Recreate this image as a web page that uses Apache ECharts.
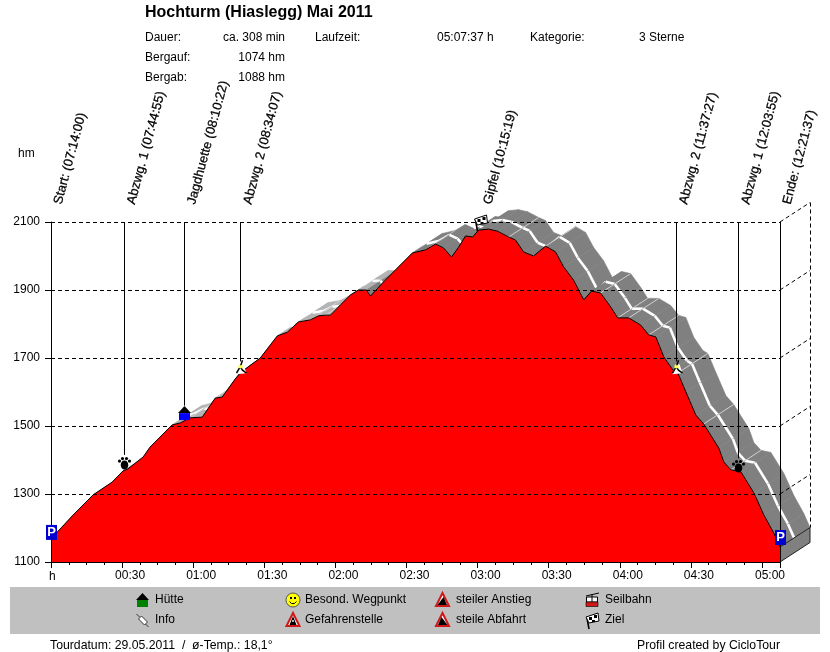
<!DOCTYPE html>
<html><head><meta charset="utf-8">
<style>html,body{margin:0;padding:0;background:#fff}#c{width:830px;height:652px}</style>
<script src="https://cdn.jsdelivr.net/npm/echarts@6/dist/echarts.min.js"></script>
</head><body><div id="c"></div>
<script>
// ---- data ----
const times = [0,9.3,17.7,25.8,30.4,32.5,38.9,41.8,51.1,54.5,58.7,63.8,69.3,72.2,77.7,79.8,83.2,88.3,92.5,95.5,99.7,104.4,109.4,112.8,115.8,117.9,122.1,126.3,129.7,133.1,134.8,139.8,146.2,152.5,158,162.2,165.6,169,172,174.9,177.9,180.4,184.6,188.4,193.1,196,199.4,203.6,208.7,212.9,216.3,220.5,224.8,228.1,231.9,236.2,239.1,243.8,248.8,252.2,255.2,258.6,262.4,264.5,267.9,272.1,275.4,281.8,283.9,286.9,291.1,296.6,300.8,305,307.6];
const elevations = [1168,1238,1297,1335,1368,1374,1409,1438,1503,1509,1524,1526,1582,1585,1638,1656,1674,1700,1738,1765,1776,1806,1812,1824,1826,1826,1856,1885,1900,1900,1882,1920,1965,2009,2018,2035,2024,1997,2026,2059,2056,2076,2079,2073,2056,2047,2012,2000,2029,2012,1968,1929,1871,1897,1891,1850,1818,1818,1797,1768,1762,1703,1665,1656,1600,1532,1506,1435,1394,1371,1365,1303,1238,1185,1144];
const ribbonEdgeTimes = [58.7,63.8,69.3,109.4,115.8,122.1,139.8,146.2,158,172,177.9,193.1,203.6,208.7,231.9,239.1,243.8,252.2,264.5,275.4,286.9];
const lightRibbonUntil = 130;
const waypointLabels = ['Start: (07:14:00)','Abzwg. 1 (07:44:55)','Jagdhuette (08:10:22)','Abzwg. 2 (08:34:07)','Gipfel (10:15:19)','Abzwg. 2 (11:37:27)','Abzwg. 1 (12:03:55)','Ende: (12:21:37)'];
const waypointTimes = [0,30.9,56.4,80.1,181.3,263.9,290.2,307.6];
const waypointMarkerElev = [1187,1391,1538,1673,2100,1673,1382,1172];
const waypointPinEnd = [1100,1415,1560,1690,2100,1690,1405,1100];
const waypointIcons = ['park','paw','hut','hiker','flag','hiker','paw','park'];
const yTicks = [1100,1300,1500,1700,1900,2100];
const legendLabels = [['hut','Hütte'],['info','Info'],['smile','Besond. Wegpunkt'],['danger','Gefahrenstelle'],['up','steiler Anstieg'],['down','steile Abfahrt'],['cable','Seilbahn'],['flag','Ziel']];

const xMax = 307.6, yMin = 1100, yMax = 2100;
const depthX = 12.66, depthY = 57.35, centre = 0.47;
const FONT = '"Liberation Sans", Arial, sans-serif';

const R = (t,o)=>({type:'rect',shape:t,style:o});
const PL = (pts,c,w)=>({type:'polyline',shape:{points:pts},style:{fill:'none',stroke:c,lineWidth:w}});
function icon(kind,x,y){
  let ch=[];
  const blk='#000';
  if(kind==='park'){ ch=[R({x:-5.5,y:-7.5,width:11,height:15},{fill:'#0000D0'}),
    {type:'text',style:{text:'P',x:0,y:0,fill:'#fff',font:'bold 13px '+FONT,align:'center',verticalAlign:'middle'}}]; }
  if(kind==='paw'){ ch=[{type:'ellipse',shape:{cx:0,cy:2,rx:3.8,ry:4.5},style:{fill:blk}}];
    [[-5,-2],[-2,-4.5],[2,-4.5],[5,-2]].forEach(p=>ch.push({type:'circle',shape:{cx:p[0],cy:p[1],r:1.6},style:{fill:blk}})); }
  if(kind==='hut'){ ch=[{type:'polygon',shape:{points:[[-6.5,0],[0,-7],[6.5,0]]},style:{fill:blk}},R({x:-5.5,y:0,width:11,height:7},{fill:'#0000FF'})]; }
  if(kind==='hutLegend'){ ch=[{type:'polygon',shape:{points:[[-6.5,0],[0,-7],[6.5,0]]},style:{fill:blk}},R({x:-5.5,y:0,width:11,height:7},{fill:'#008000'})]; }
  if(kind==='hiker'){ ch=[
    {type:'polygon',shape:{points:[[-4,7],[-1,-3],[3,-3],[6,6]]},style:{fill:'#fff'}},
    PL([[2,-7],[0,-1],[-4,6]],blk,1.5),PL([[0,0],[2,3],[6,6]],blk,1.5),
    R({x:-2,y:-2,width:4,height:3},{fill:'#FFFF40'})]; }
  if(kind==='flag'){ ch=[
    PL([[-3,9],[-5,-2]],blk,1.6),
    {type:'polygon',shape:{points:[[-6,-3],[6,-7],[7,1],[-3,3]]},style:{fill:'#fff',stroke:blk,lineWidth:1}},
    R({x:-3,y:-3,width:3,height:3},{fill:blk}),R({x:0,y:0,width:3,height:2},{fill:blk}),R({x:2,y:-5,width:3,height:3},{fill:blk})]; }
  if(kind==='smile'){ ch=[{type:'circle',shape:{cx:0,cy:0,r:7},style:{fill:'#FFFF00',stroke:'#555',lineWidth:1}},
    R({x:-3,y:-3,width:2,height:2},{fill:blk}),R({x:1,y:-3,width:2,height:2},{fill:blk}),
    PL([[-3.5,1.5],[-1.5,3.5],[1.5,3.5],[3.5,1.5]],blk,1)]; }
  const tri={type:'polygon',shape:{points:[[0,-7],[6.5,6],[-6.5,6]]},style:{fill:'#fff',stroke:'#D01818',lineWidth:2}};
  if(kind==='danger'){ ch=[tri,{type:'polygon',shape:{points:[[0,-4],[3.5,5],[-3.5,5]]},style:{fill:blk}},R({x:-0.7,y:0,width:1.4,height:2},{fill:'#fff'})]; }
  if(kind==='up'){ ch=[tri,{type:'polygon',shape:{points:[[-5,5],[4.5,5],[1,-3]]},style:{fill:blk}}]; }
  if(kind==='down'){ ch=[tri,{type:'polygon',shape:{points:[[5,5],[-4.5,5],[-1,-3]]},style:{fill:blk}}]; }
  if(kind==='cable'){ ch=[
    PL([[-6,-4],[7,-7]],blk,1),PL([[0,-6],[0,-3]],blk,1),
    R({x:-5.5,y:-3,width:11,height:5},{fill:'#fff',stroke:blk,lineWidth:1}),
    R({x:-6,y:2,width:12,height:4.5},{fill:'#D01818',stroke:blk,lineWidth:0.6}),
    R({x:-0.5,y:-3,width:1,height:5},{fill:blk})]; }
  if(kind==='info'){ ch=[
    PL([[-6,-6],[-3,-3]],'#333',1),
    {type:'polygon',shape:{points:[[-4,-1],[-1,-4],[5,2],[2,5]]},style:{fill:'#fff',stroke:'#333',lineWidth:1}},
    PL([[3,4],[6,7]],'#333',1)]; }
  return {type:'group',x:x,y:y,children:ch};
}
const crisp=v=>Math.floor(v)+0.5;
function seg(a,b,stroke,w,dash){return {type:'line',shape:{x1:a[0],y1:a[1],x2:b[0],y2:b[1]},style:{stroke:stroke,lineWidth:w,lineDash:dash||null}};}

const profile = times.map((t,i)=>[t,elevations[i]]);

// ---- depth ribbon, painted segment by segment from start to end ----
function renderRibbon(params,api){
  const i=params.dataIndex;
  if(i>=times.length-1) return {type:'group',children:[]};
  const t0=api.value(0),h0=api.value(1),t1=times[i+1],h1=elevations[i+1];
  const a=api.coord([t0,h0]),b=api.coord([t1,h1]);
  const c=api.coord([t1+depthX,h1+depthY]),d=api.coord([t0+depthX,h0+depthY]);
  const m0=api.coord([t0+depthX*centre,h0+depthY*centre]),m1=api.coord([t1+depthX*centre,h1+depthY*centre]);
  const fill=t0<lightRibbonUntil?'#B4B4B4':'#808080';
  const ch=[{type:'polygon',shape:{points:[a,b,c,d]},style:{fill:fill,stroke:fill,lineWidth:0.6}},
            seg(m0,m1,'#fff',2.6)];
  if(ribbonEdgeTimes.includes(t0)) ch.push(seg(a,d,'#D0D0D0',1));
  return {type:'group',z2:i,children:ch};
}
function renderCap(params,api){
  const last=times.length-1;
  const a=api.coord([times[last],elevations[last]]),b=api.coord([times[last]+depthX,elevations[last]+depthY]);
  const c=api.coord([xMax+depthX,yMin+depthY]),d=api.coord([xMax,yMin]);
  return {type:'polygon',shape:{points:[a,b,c,d]},style:{fill:'#808080',stroke:'#222',lineWidth:1}};
}
function renderWall(params,api){
  const v=api.value(0);
  const p=api.coord([xMax,v]),q=api.coord([xMax+depthX,v+depthY]);
  const ch=v>yMin?[seg(p,q,'#000',1,[4,3])]:[];
  if(v===yMax){ const e=api.coord([xMax+depthX,elevations[elevations.length-1]+depthY]);
    const x=crisp(q[0]); ch.push(seg([x,q[1]],[x,e[1]],'#000',1,[4,3])); }
  return {type:'group',children:ch};
}
function renderWay(params,api){
  const i=params.dataIndex,t=api.value(0);
  const top=api.coord([t,yMax]),end=api.coord([t,waypointPinEnd[i]]),mk=api.coord([t,waypointMarkerElev[i]]);
  const x=crisp(top[0]);
  return {type:'group',children:[
    seg([x,top[1]],[x,end[1]],'#000',1),
    icon(waypointIcons[i],x,mk[1]),
    {type:'text',x:top[0]+7,y:top[1]-18,rotation:75*Math.PI/180,
     style:{text:waypointLabels[i],fill:'#000',stroke:'#000',lineWidth:0.25,font:'13px '+FONT,align:'left',verticalAlign:'middle'}}
  ]};
}

const T=(x,y,text,extra)=>({type:'text',x:x,y:y,z:10,style:Object.assign({text:text,fill:'#000',font:'12px '+FONT,verticalAlign:'middle'},extra||{})});
const legendX=[142.5,293,442.5,592], legendTextX=[155,305,456,605], legendY=[600,620];
const graphics=[
  {type:'rect',z:1,shape:{x:10,y:587,width:810,height:47},style:{fill:'#C0C0C0'}},
  T(145,13,'Hochturm (Hiaslegg) Mai 2011',{font:'bold 16px '+FONT}),
  T(145,38,'Dauer:'),T(285,38,'ca. 308 min',{align:'right'}),T(315,38,'Laufzeit:'),T(437,38,'05:07:37 h'),T(530,38,'Kategorie:'),T(639,38,'3 Sterne'),
  T(145,58,'Bergauf:'),T(285,58,'1074 hm',{align:'right'}),
  T(145,78,'Bergab:'),T(285,78,'1088 hm',{align:'right'}),
  T(18,154,'hm'),T(49,577,'h'),
  T(50,646,'Tourdatum: 29.05.2011  /  ø-Temp.: 18,1°',{font:'12.25px '+FONT}),T(637,646,'Profil created by CicloTour',{font:'12.25px '+FONT})
];
legendLabels.forEach((e,i)=>{
  const col=Math.floor(i/2),row=i%2;
  const g=icon(e[0]==='hut'?'hutLegend':e[0],legendX[col],legendY[row]);
  g.z=5; g.children.forEach(c=>c.z=5);
  graphics.push(g); graphics.push(T(legendTextX[col],legendY[row],e[1]));
});

const chart=echarts.init(document.getElementById('c'),null,{renderer:'canvas'});
chart.setOption({
  animation:false,backgroundColor:'#fff',
  grid:{left:51,top:222,width:729,height:340,containLabel:false},
  xAxis:{type:'value',min:0,max:xMax,interval:30,z:5,
    axisLine:{show:true,lineStyle:{color:'#000'}},
    axisTick:{show:true,length:6,lineStyle:{color:'#000'}},
    minorTick:{show:true,splitNumber:4,length:3,lineStyle:{color:'#000'}},
    splitLine:{show:false},
    axisLabel:{show:true,margin:8,color:'#000',fontFamily:FONT,fontSize:12,padding:[0,0,0,16],showMaxLabel:false,
      formatter:v=>{ if(v<=0||v%30!==0) return ''; const h=Math.floor(v/60),m=v%60; return String(h).padStart(2,'0')+':'+String(m).padStart(2,'0'); }}},
  yAxis:{type:'value',min:yMin,max:yMax,interval:200,z:5,
    axisLine:{show:true,lineStyle:{color:'#000'}},
    axisTick:{show:true,length:6,lineStyle:{color:'#000'}},
    splitLine:{show:true,lineStyle:{color:'#000',type:[4,3],width:1}},
    axisLabel:{margin:11,color:'#000',fontFamily:FONT,fontSize:12,formatter:v=>String(v)}},
  graphic:graphics,
  series:[
    {type:'custom',z:2,data:profile,renderItem:renderRibbon,silent:true,clip:false},
    {type:'custom',z:2,data:[0],renderItem:renderCap,silent:true,clip:false},
    {type:'custom',z:2,data:yTicks.map(v=>[v]),renderItem:renderWall,silent:true,clip:false},
    {type:'line',z:3,data:profile,showSymbol:false,smooth:false,silent:true,
      lineStyle:{color:'#000',width:1},areaStyle:{color:'#FF0000',opacity:1}},
    {type:'custom',z:7,data:waypointTimes.map(t=>[t]),renderItem:renderWay,silent:true,clip:false}
  ]
});
</script></body></html>
